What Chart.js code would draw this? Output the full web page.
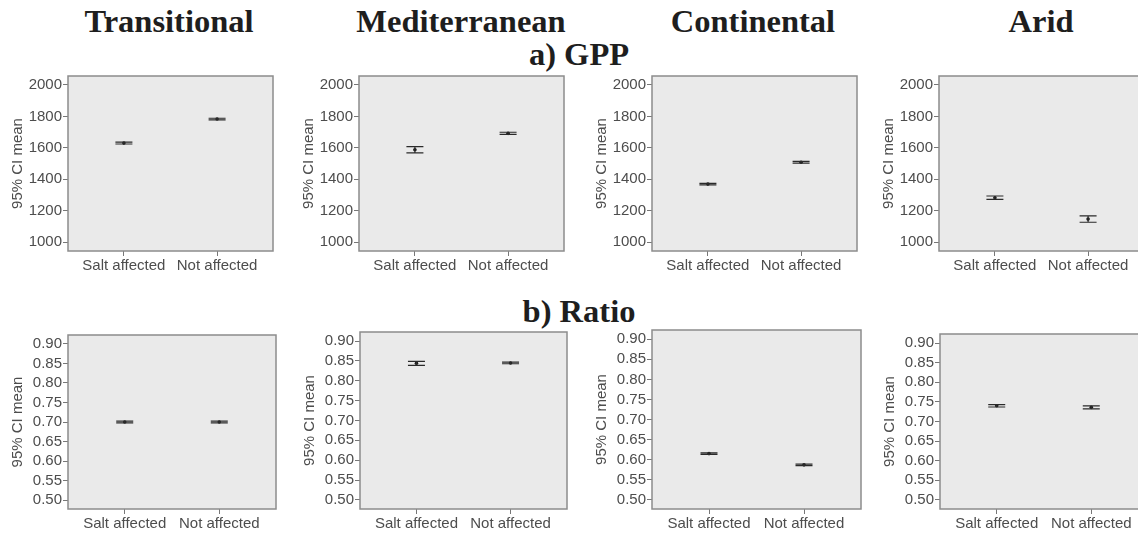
<!DOCTYPE html>
<html>
<head>
<meta charset="utf-8">
<script src="https://cdn.jsdelivr.net/npm/chart.js@4.4.1/dist/chart.umd.min.js"></script>
<style>
  body { margin: 0; width: 1138px; height: 533px; overflow: hidden; background: #fff; position: relative; }
  .t { position: absolute; width: 300px; text-align: center; font: bold 32.5px "Liberation Serif", "Times New Roman", serif; line-height: 31px; color: #1e1e1e; white-space: nowrap; }
  canvas { position: absolute; }
</style>
</head>
<body>
<div class="t" style="left:19px;top:5.5px">Transitional</div>
<div class="t" style="left:311px;top:5.5px">Mediterranean</div>
<div class="t" style="left:603px;top:5.5px">Continental</div>
<div class="t" style="left:891px;top:5.5px">Arid</div>
<div class="t" style="left:429px;top:38.5px">a) GPP</div>
<div class="t" style="left:429px;top:295.5px">b) Ratio</div>
<script>
// data
const categories = ['Salt affected', 'Not affected']
const regions = ['Transitional', 'Mediterranean', 'Continental', 'Arid']
const gppTicks = [1000, 1200, 1400, 1600, 1800, 2000]
const ratioTicks = [0.50, 0.55, 0.60, 0.65, 0.70, 0.75, 0.80, 0.85, 0.90]
const gppMean = [[1630, 1783], [1588, 1692], [1369, 1508], [1282, 1146]]
const gppHalfCI = [[6, 5], [20, 7], [5, 5], [11, 20]]
const ratioMean = [[0.700, 0.700], [0.844, 0.845], [0.615, 0.587], [0.740, 0.736]]
const ratioHalfCI = [[0.002, 0.002], [0.005, 0.002], [0.002, 0.002], [0.003, 0.004]]

// plot area boxes (left, top, width, height)
const gppBoxes = [[68, 76, 205, 175], [359, 76, 205, 175], [652, 76, 205, 175], [939, 76, 205, 175]]
const ratioBoxes = [[68, 335, 208, 174], [360, 332, 207, 177], [652, 330, 209, 179], [940, 334, 208, 175]]

const AXIS_W = 62, PAD_T = 12, PAD_R = 8, AXIS_H = 30
const textColor = '#4d4d4d'
const font = { family: '"Liberation Sans", Arial, sans-serif', size: 15 }

const panelFrame = {
  id: 'panelFrame',
  beforeDraw(chart) {
    const { ctx, chartArea: a } = chart
    ctx.save()
    ctx.fillStyle = '#eaeaea'
    ctx.fillRect(a.left, a.top, a.width, a.height)
    ctx.restore()
  },
  afterDraw(chart) {
    const { ctx, chartArea: a } = chart
    ctx.save()
    ctx.strokeStyle = '#8c8c8c'
    ctx.lineWidth = 1.5
    ctx.strokeRect(a.left, a.top, a.width, a.height)
    ctx.restore()
  }
}

const errorBars = {
  id: 'errorBars',
  afterDatasetsDraw(chart) {
    const { ctx } = chart
    const y = chart.scales.y
    const ds = chart.data.datasets[0]
    const meta = chart.getDatasetMeta(0)
    ctx.save()
    ctx.strokeStyle = '#2a2a2a'
    ctx.lineWidth = 1.2
    meta.data.forEach((pt, i) => {
      const v = ds.data[i].y
      const hi = y.getPixelForValue(v + ds.halfCI[i])
      const lo = y.getPixelForValue(v - ds.halfCI[i])
      const cap = 8.5
      ctx.beginPath()
      ctx.moveTo(pt.x, hi); ctx.lineTo(pt.x, lo)
      ctx.moveTo(pt.x - cap, hi); ctx.lineTo(pt.x + cap, hi)
      ctx.moveTo(pt.x - cap, lo); ctx.lineTo(pt.x + cap, lo)
      ctx.stroke()
    })
    ctx.restore()
  }
}

function makePanel(box, means, halfs, ticks, yMin, yMax, decimals) {
  const [left, top, w, h] = box
  const canvas = document.createElement('canvas')
  canvas.width = AXIS_W + w + PAD_R
  canvas.height = PAD_T + h + AXIS_H
  canvas.style.left = (left - AXIS_W) + 'px'
  canvas.style.top = (top - PAD_T) + 'px'
  document.body.appendChild(canvas)

  new Chart(canvas.getContext('2d'), {
    type: 'scatter',
    data: {
      datasets: [{
        data: means.map((m, i) => ({ x: i, y: m })),
        halfCI: halfs,
        pointRadius: 1.8,
        pointBackgroundColor: '#1a1a1a',
        pointBorderWidth: 0
      }]
    },
    options: {
      responsive: false,
      animation: false,
      devicePixelRatio: 1,
      layout: { padding: { top: PAD_T, right: PAD_R, left: 0, bottom: 0 } },
      plugins: { legend: { display: false }, tooltip: { enabled: false } },
      scales: {
        x: {
          type: 'linear',
          min: -0.6,
          max: 1.6,
          afterBuildTicks: s => { s.ticks = categories.map((c, i) => ({ value: i })) },
          afterFit: s => { s.height = AXIS_H },
          ticks: { callback: v => categories[v], color: textColor, font, padding: 1, maxRotation: 0, autoSkip: false },
          grid: { drawOnChartArea: false, tickLength: 5, color: '#777' },
          border: { display: false }
        },
        y: {
          min: yMin,
          max: yMax,
          afterBuildTicks: s => { s.ticks = ticks.map(v => ({ value: v })) },
          afterFit: s => { s.width = AXIS_W },
          ticks: { callback: v => v.toFixed(decimals), color: textColor, font, padding: 1, autoSkip: false },
          grid: { drawOnChartArea: false, tickLength: 5, color: '#777' },
          border: { display: false },
          title: { display: true, text: '95% CI mean', color: textColor, font, padding: { top: 3, bottom: 0 } }
        }
      }
    },
    plugins: [panelFrame, errorBars]
  })
}

regions.forEach((r, k) => {
  makePanel(gppBoxes[k], gppMean[k], gppHalfCI[k], gppTicks, 943, 2057, 0)
  makePanel(ratioBoxes[k], ratioMean[k], ratioHalfCI[k], ratioTicks, 0.477, 0.923, 2)
})
</script>
</body>
</html>
